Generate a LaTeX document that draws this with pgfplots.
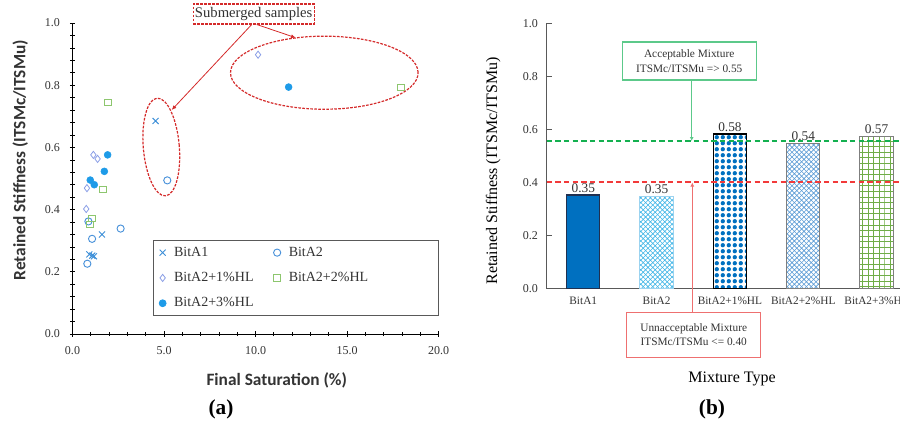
\documentclass[border=0pt]{standalone}
\usepackage{fontspec}
\setmainfont{Liberation Serif}
\newfontfamily\carlito{Carlito}
\usepackage{pgfplots}
\pgfplotsset{compat=1.18}
\usetikzlibrary{patterns,arrows.meta}

\pgfdeclarepatternformonly{xhatch}{\pgfqpoint{-0.2pt}{-0.2pt}}{\pgfqpoint{3.8pt}{3.8pt}}{\pgfqpoint{3.6pt}{3.6pt}}{%
 \pgfsetlinewidth{0.45pt}%
 \pgfpathmoveto{\pgfqpoint{-0.1pt}{-0.1pt}}\pgfpathlineto{\pgfqpoint{3.7pt}{3.7pt}}%
 \pgfpathmoveto{\pgfqpoint{-0.1pt}{3.7pt}}\pgfpathlineto{\pgfqpoint{3.7pt}{-0.1pt}}%
 \pgfusepath{stroke}}
\pgfdeclarepatternformonly{bigdots}{\pgfqpoint{0pt}{0pt}}{\pgfqpoint{4.7pt}{4.7pt}}{\pgfqpoint{4.7pt}{4.7pt}}{%
 \pgfpathcircle{\pgfqpoint{2.35pt}{2.35pt}}{1.8pt}\pgfusepath{fill}}
\pgfdeclarepatternformonly{biggrid}{\pgfqpoint{-0.3pt}{-0.3pt}}{\pgfqpoint{4.5pt}{4.5pt}}{\pgfqpoint{4.2pt}{4.2pt}}{%
 \pgfsetlinewidth{0.5pt}%
 \pgfpathmoveto{\pgfqpoint{0pt}{-0.1pt}}\pgfpathlineto{\pgfqpoint{0pt}{4.3pt}}%
 \pgfpathmoveto{\pgfqpoint{-0.1pt}{0pt}}\pgfpathlineto{\pgfqpoint{4.3pt}{0pt}}%
 \pgfusepath{stroke}}

\definecolor{ccross}{HTML}{3D8FD8}
\definecolor{ccirc}{HTML}{4A92DA}
\definecolor{cdiam}{HTML}{8A9EE6}
\definecolor{csq}{HTML}{8DC66E}
\definecolor{cfill}{HTML}{1E9BE8}
\definecolor{txt}{HTML}{333333}
\definecolor{axgray}{HTML}{595959}
\definecolor{bitaone}{HTML}{0070C0}
\definecolor{edgedark}{HTML}{203050}
\definecolor{bitatwo}{HTML}{41B6E6}
\definecolor{bitatwoedge}{HTML}{9BD3F0}
\definecolor{hlone}{HTML}{0070C0}
\definecolor{hltwo}{HTML}{5B9BD5}
\definecolor{hlthree}{HTML}{70AD47}
\definecolor{edgegray}{HTML}{7F7F7F}
\definecolor{thrgreen}{HTML}{14B050}
\definecolor{thrred}{HTML}{F23A3A}
\definecolor{accgreen}{HTML}{5CC98A}
\definecolor{unred}{HTML}{EE7070}
\definecolor{annred}{HTML}{D42A2A}

\begin{document}
\begin{tikzpicture}
\path[use as bounding box] (0,0) rectangle (675pt,-315.75pt);
\clip (0,0) rectangle (675pt,-315.75pt);

% ---------------- panel (a)
\begin{axis}[
  at={(54.375pt,-250.5pt)}, anchor=south west,
  scale only axis, width=274.5pt, height=233.25pt,
  xmin=0, xmax=20, ymin=0, ymax=1,
  axis x line*=bottom, axis y line*=left,
  axis line style={-, draw=black, line width=0.6pt},
  xtick={0,5,10,15,20}, minor x tick num=4,
  ytick={0,0.2,0.4,0.6,0.8,1}, minor y tick num=4,
  tick align=center, major tick length=4pt, minor tick length=3pt,
  tick style={black, line width=0.5pt},
  /pgf/number format/assume math mode=true,
  /pgf/number format/.cd, fixed, fixed zerofill, precision=1, /pgfplots/.cd,
  ticklabel style={font=\fontsize{9}{10}\selectfont, text=txt},
  yticklabel style={xshift=-4pt},
  xticklabel style={yshift=-4pt},
  xlabel={Final Saturation (\%)},
  ylabel={Retained Stiffness (ITSMc/ITSMu)},
  xlabel style={at={(axis description cs:0.558,-0.148)}, anchor=center, font=\carlito\bfseries\fontsize{13}{15}\selectfont, text=txt},
  ylabel style={at={(axis description cs:-0.143,0.559)}, anchor=center, rotate=0, font=\carlito\bfseries\fontsize{13}{15}\selectfont, text=txt},
  legend columns=2, legend cell align=left,
  legend style={at={(1,0.058)}, anchor=south east, draw=axgray, line width=0.6pt,
    font=\fontsize{10.5}{12}\selectfont, text=txt, row sep=6.5pt, inner xsep=4pt, inner ysep=3pt,
    /tikz/every odd column/.append style={column sep=4pt},
    /tikz/every even column/.append style={column sep=13pt}},
]
\addplot[only marks, mark=x, mark size=3.2pt, color=ccross, mark options={line width=0.7pt}]
  coordinates {(4.54,0.685) (1.61,0.320) (0.92,0.256) (1.08,0.252) (1.17,0.250)};
\addlegendentry{BitA1}
\addplot[only marks, mark=o, mark size=2.7pt, color=ccirc, mark options={line width=0.7pt}]
  coordinates {(5.18,0.494) (0.87,0.362) (2.63,0.339) (1.07,0.306) (0.81,0.226)};
\addlegendentry{BitA2}
\addplot[only marks, mark=diamond, mark size=2.7pt, color=cdiam, mark options={line width=0.6pt}]
  coordinates {(10.14,0.898) (1.14,0.576) (1.37,0.563) (0.79,0.469) (0.75,0.402)};
\addlegendentry{BitA2+1\%HL}
\addplot[only marks, mark=square, mark size=2.5pt, color=csq, mark options={line width=0.7pt}]
  coordinates {(17.95,0.793) (1.92,0.745) (1.67,0.465) (1.05,0.371) (0.94,0.352)};
\addlegendentry{\makebox[106pt][l]{BitA2+2\%HL}}
\addplot[only marks, mark=*, mark size=2.6pt, color=cfill]
  coordinates {(11.81,0.794) (1.92,0.576) (1.74,0.523) (0.97,0.495) (1.19,0.480)};
\addlegendentry{BitA2+3\%HL}
\end{axis}

% ---------------- panel (b)
\begin{axis}[
  at={(409.95pt,-216.5pt)}, anchor=south west,
  scale only axis, width=275pt, height=199pt,
  xmin=-0.5, xmax=4.5, ymin=0, ymax=1,
  axis x line*=bottom, axis y line*=left,
  axis line style={-, draw=axgray, line width=1.2pt},
  xtick={0,1,2,3,4},
  xticklabels={BitA1,BitA2,BitA2+1\%HL,BitA2+2\%HL,BitA2+3\%HL},
  x tick style={draw=none},
  ytick={0,0.2,0.4,0.6,0.8,1},
  y tick style={draw=axgray, line width=0.8pt},
  tick align=inside, major tick length=4pt,
  yticklabel style={font=\fontsize{9}{10}\selectfont, text=txt, xshift=-3pt,
    /pgf/number format/assume math mode=true,
    /pgf/number format/.cd, fixed, fixed zerofill, precision=1},
  xticklabel style={font=\fontsize{8.5}{10}\selectfont, text=txt, yshift=-3pt},
  xlabel={Mixture Type},
  ylabel={Retained Stiffness (ITSMc/ITSMu)},
  xlabel style={at={(axis description cs:0.5056,-0.340)}, anchor=center, font=\fontsize{12}{14}\selectfont, text=black},
  ylabel style={at={(axis description cs:-0.146,0.4435)}, anchor=center, font=\fontsize{12}{14}\selectfont, text=black},
  every node near coord/.append style={font=\fontsize{10}{12}\selectfont, text=txt, inner sep=1.5pt},
]
\addplot[ybar, bar width=25pt, bar shift=0pt, fill=bitaone, draw=edgedark, line width=0.8pt,
  point meta=explicit symbolic, nodes near coords] coordinates {(0,0.353) [0.35]};
\addplot[ybar, bar width=25pt, bar shift=0pt, pattern=xhatch, pattern color=bitatwo, draw=bitatwoedge, line width=0.8pt,
  point meta=explicit symbolic, nodes near coords] coordinates {(1,0.348) [0.35]};
\addplot[ybar, bar width=25pt, bar shift=0pt, pattern=bigdots, pattern color=hlone, draw=black, line width=0.8pt,
  point meta=explicit symbolic, nodes near coords] coordinates {(2,0.583) [0.58]};
\addplot[ybar, bar width=25pt, bar shift=0pt, pattern=xhatch, pattern color=hltwo, draw=edgegray, line width=0.8pt,
  point meta=explicit symbolic, nodes near coords] coordinates {(3,0.548) [0.54]};
\addplot[ybar, bar width=25pt, bar shift=0pt, pattern=biggrid, pattern color=hlthree, draw=edgegray, line width=0.8pt,
  point meta=explicit symbolic, nodes near coords] coordinates {(4,0.575) [0.57]};
\end{axis}

% ---------------- panel (b) threshold lines, overlaid axis with the same geometry
\begin{axis}[
  at={(409.95pt,-216.5pt)}, anchor=south west,
  scale only axis, width=275pt, height=199pt,
  xmin=-0.5, xmax=4.5, ymin=0, ymax=1,
  axis lines=none, ticks=none,
]
\addplot[draw=thrgreen, no marks, dash pattern=on 4pt off 2.5pt, line width=1.5pt]
  coordinates {(-0.5,0.556) (4.5,0.556)};
\addplot[draw=thrred, no marks, dash pattern=on 4pt off 2.5pt, line width=1.3pt]
  coordinates {(-0.5,0.403) (4.5,0.403)};
\end{axis}

% ---------------- annotations (pixel coordinates of the reference)
\begin{scope}[x=0.75pt,y=-0.75pt]
  \draw[annred, dash pattern=on 2pt off 1pt, line width=0.9pt] (324.3,72.7) ellipse [x radius=70.35pt, y radius=27.4pt];
  \begin{scope}[shift={(161.3,147)}, rotate=4.9]
    \draw[annred, dash pattern=on 2pt off 1pt, line width=0.9pt] (0,0) ellipse [x radius=13.5pt, y radius=36.75pt];
  \end{scope}
  \draw[annred, line width=0.6pt, -{Latex[length=3.5pt,width=3pt]}] (251.7,24.5) -- (171.7,110);
  \draw[annred, line width=0.6pt, -{Latex[length=3.5pt,width=3pt]}] (256.7,24.5) -- (295.7,37.7);
  \node[draw=annred, dash pattern=on 2pt off 1pt, line width=0.8pt, fill=white, minimum width=90.5pt,
    minimum height=15pt, inner sep=1pt, text=txt, font=\fontsize{11}{12}\selectfont] at (253.7,14) {Submerged samples};

  \draw[accgreen, line width=0.6pt, -{Latex[length=3pt,width=3pt]}] (691.7,80) -- (691.7,141);
  \node[draw=accgreen, line width=0.8pt, fill=white, minimum width=100.3pt, minimum height=28.5pt,
    align=center, text=txt, font=\fontsize{8.5}{11}\selectfont] at (689.2,61) {Acceptable Mixture\\ITSMc/ITSMu => 0.55};
  \draw[unred, line width=0.6pt, -{Latex[length=3pt,width=3pt]}] (692.3,312.3) -- (692.3,182.5);
  \node[draw=unred, line width=0.8pt, fill=white, minimum width=100.5pt, minimum height=33.75pt,
    align=center, text=txt, font=\fontsize{8.5}{11}\selectfont] at (693.7,334.8) {Unnacceptable Mixture\\ITSMc/ITSMu <= 0.40};

  \node[font=\bfseries\fontsize{16}{18}\selectfont] at (221,409) {(a)};
  \node[font=\bfseries\fontsize{16}{18}\selectfont] at (712,409) {(b)};
\end{scope}
\end{tikzpicture}
\end{document}
